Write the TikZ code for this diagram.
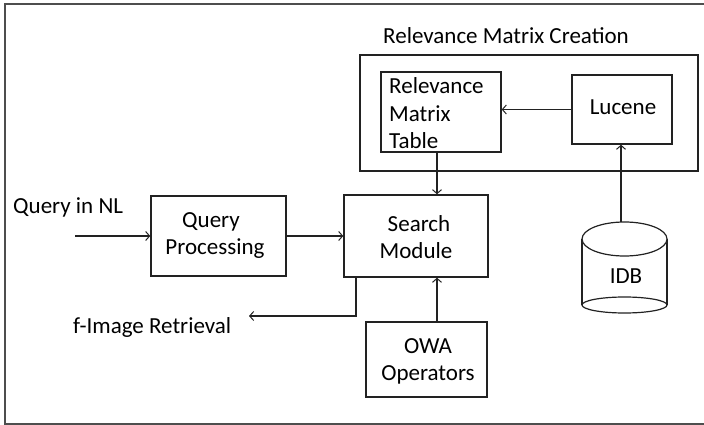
\documentclass[tikz,border=0pt]{standalone}
\usepackage{fontspec}
\setmainfont{Carlito}
\usetikzlibrary{arrows.meta,calc}
\definecolor{ln}{HTML}{222222}
\tikzset{
  box/.style={draw=ln, line width=1.4pt, inner sep=0pt},
  txt/.style={inner sep=0pt, anchor=base, font=\fontsize{23}{27}\selectfont},
  txtl/.style={txt, anchor=base west},
  con/.style={draw=ln, line width=1.4pt},
  arr/.style={con, -{Straight Barb[length=4pt,width=9pt,line width=1pt]}}
}
\begin{document}
\begin{tikzpicture}[x=1pt,y=-1pt]
\useasboundingbox (0,0) rectangle (704,425);
% outer frame
\draw[draw=ln!80, line width=2pt] (5,4) rectangle (708,424);
% boxes
\node[box, minimum width=338pt, minimum height=116pt] (rmc) at (529,113) {};
\node[box, minimum width=120pt, minimum height=80pt] (rmt) at (441,112) {};
\node[box, minimum width=100pt, minimum height=69pt] (luc) at (622,109.5) {};
\node[box, minimum width=135pt, minimum height=80pt] (qp) at (218.5,236) {};
\node[box, minimum width=144pt, minimum height=82pt] (sm) at (416,236) {};
\node[box, minimum width=121pt, minimum height=75pt] (owa) at (426.5,359.5) {};
% cylinder IDB
\draw[con, line width=1.2pt] (582,239) -- (582,305) (667,239) -- (667,305);
\draw[con, line width=1.2pt, fill=white] (624.5,239) ellipse [x radius=42.5, y radius=17];
\draw[con, line width=1.2pt] (624.5,305) ellipse [x radius=42.5, y radius=8];
\coordinate (idbtop) at (621,222);
% texts
\node[txtl] (t0) at (383,44) {Relevance Matrix Creation};
\node[txtl] (t1) at (389,94) {Relevance};
\node[txtl] (t2) at (389,122) {Matrix};
\node[txtl] (t3) at (389,149) {Table};
\node[txt] (t4) at (623,115) {Lucene};
\node[txtl] (t5) at (13,213) {Query in NL};
\node[txt] (t6) at (211,227) {Query};
\node[txt] (t7) at (215,254) {Processing};
\node[txt] (t8) at (419,231) {Search};
\node[txt] (t9) at (416,258) {Module};
\node[txt] (t10) at (428,353) {OWA};
\node[txt] (t11) at (428,380) {Operators};
\node[txt] (t12) at (626,283) {IDB};
\node[txtl] (t13) at (73,333) {f-Image Retrieval};
% connectors
\coordinate (qin) at (75,236);
\coordinate (cx) at (437,0);
\coordinate (smx) at (356,0);
\coordinate (ret) at (249,316);
\draw[arr] (qin) -- (qp.west);
\draw[arr] (qp.east) -- (sm.west);
\draw[arr] (rmt.south -| cx) -- (sm.north -| cx);
\draw[arr] (owa.north -| cx) -- (sm.south -| cx);
\draw[arr] (luc.west) -- (luc.west -| rmt.east);
\draw[arr] (idbtop) -- (luc.south -| idbtop);
\draw[arr] (sm.south -| smx) -- (ret -| smx) -- (ret);
\end{tikzpicture}
\end{document}
